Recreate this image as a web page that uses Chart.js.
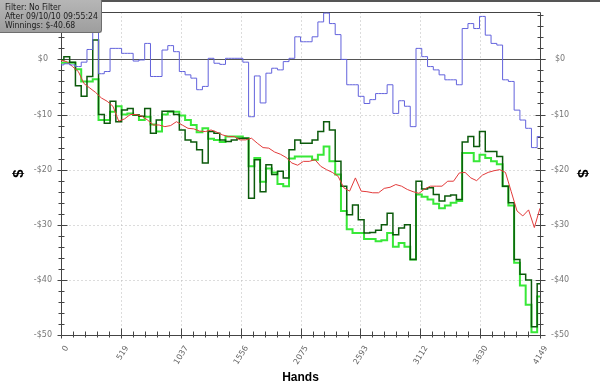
<!DOCTYPE html>
<html>
<head>
<meta charset="utf-8">
<script src="https://cdn.jsdelivr.net/npm/chart.js@4"></script>
<style>
  body { margin: 0; background: #fff; }
  #wrap { position: relative; width: 600px; height: 385px; }
  #topbar { position: absolute; left: 0; top: 0; width: 600px; height: 2px; background: #555; }
  #info {
    position: absolute; left: 0; top: 0; width: 96px; height: 29px;
    padding: 3px 0 0 5px;
    background: linear-gradient(#b6b6b6, #9e9e9e);
    border: 1px solid #6e6e6e; border-top: none; border-left: none;
    border-radius: 0 0 3px 0;
    font: 8.6px "DejaVu Sans Condensed", "DejaVu Sans", sans-serif; line-height: 9px; color: #1c1c1c;
    white-space: nowrap;
  }
</style>
</head>
<body>
<div id="wrap">
  <canvas id="chart" width="600" height="385"></canvas>
  <div id="topbar"></div>
  <div id="info">Filter: No Filter<br>After 09/10/10 09:55:24<br>Winnings: $-40.68</div>
</div>
<script>
// --- DATA ---
const hands = [0, 50, 100, 150, 200, 250, 300, 350, 400, 450, 500, 550, 600, 650, 700, 750, 800, 850, 900, 950,
  1000, 1050, 1100, 1150, 1200, 1250, 1300, 1350, 1400, 1450, 1500, 1550, 1600, 1650, 1700, 1750, 1800, 1850, 1900, 1950,
  2000, 2050, 2100, 2150, 2200, 2250, 2300, 2350, 2400, 2450, 2500, 2550, 2600, 2650, 2700, 2750, 2800, 2850, 2900, 2950,
  3000, 3050, 3100, 3150, 3200, 3250, 3300, 3350, 3400, 3450, 3500, 3550, 3600, 3650, 3700, 3750, 3800, 3850, 3900, 3950,
  4000, 4050, 4100, 4149];

const blueWinnings = [-1.0, -0.8, -1.0, -1.3, -0.5, 1.8, 8.0, -2.6, -2.2, 2.0, 2.0, 1.1, 1.1, -0.3, -0.1, 2.9, -3.1, -3.1, 1.7, 2.5,
  1.4, -2.2, -2.8, -3.4, -5.5, -4.9, 0.2, -0.7, -0.9, 0.2, 0.2, 0.2, -0.5, -10.4, -3.0, -7.9, -2.5, -1.6, -1.9, -0.4,
  0.2, 4.1, 3.2, 3.2, 4.1, 6.8, 8.4, 6.5, 4.5, 0.0, -4.6, -4.6, -6.7, -8.0, -7.3, -6.2, -6.2, -4.6, -9.8, -7.5,
  -8.5, -12.2, 2.0, 0.5, -1.3, -1.9, -2.8, -3.7, -3.7, -4.6, 5.6, 6.5, 5.6, 7.8, 4.4, 2.9, 2.6, -3.7, -4.0, -9.2,
  -11.0, -12.5, -16.0, -14.0];

const redWinnings = [-0.2, -0.4, -1.3, -2.2, -4.4, -5.2, -6.0, -7.0, -7.6, -8.5, -11.2, -10.8, -10.0, -10.0, -10.3, -11.0, -11.9, -11.9, -12.2, -12.0,
  -11.3, -11.9, -12.5, -12.6, -13.0, -13.1, -12.8, -13.2, -13.7, -14.0, -14.0, -14.6, -14.6, -14.3, -15.2, -16.0, -16.1, -16.8, -17.2, -17.8,
  -18.8, -19.2, -18.5, -18.5, -18.2, -19.4, -20.0, -20.5, -21.2, -23.3, -23.9, -21.5, -23.9, -24.0, -24.2, -24.2, -23.4, -23.2, -22.7, -23.0,
  -23.6, -24.0, -24.3, -23.5, -23.0, -23.0, -23.0, -22.1, -22.1, -20.6, -20.5, -21.5, -22.0, -21.0, -20.5, -20.2, -20.0, -20.5, -24.0, -27.5,
  -28.4, -27.3, -30.5, -27.0];

const darkGreenWinnings = [-0.1, 0.5, -0.5, -4.8, -6.7, -3.1, 3.5, -10.0, -11.6, -7.6, -11.3, -9.2, -8.9, -10.1, -10.3, -8.9, -13.4, -11.0, -9.4, -9.4,
  -10.0, -12.8, -14.6, -15.0, -16.4, -18.8, -13.1, -13.4, -14.6, -14.9, -14.6, -14.3, -14.3, -25.2, -18.2, -24.0, -19.1, -20.9, -20.3, -21.5,
  -16.4, -14.6, -15.2, -15.2, -14.6, -13.1, -11.3, -12.8, -18.5, -23.0, -28.2, -26.4, -29.1, -31.5, -31.4, -31.0, -30.0, -27.9, -31.8, -30.6,
  -30.0, -36.3, -22.1, -23.5, -23.3, -24.5, -25.7, -24.8, -24.6, -25.4, -15.0, -14.0, -15.8, -13.1, -16.7, -16.7, -17.6, -23.0, -26.0, -36.3,
  -39.0, -40.0, -48.5, -40.7];

const lightGreenWinnings = [-0.6, -0.6, -0.6, -1.8, -4.0, -4.0, -3.6, -11.0, -11.0, -9.5, -8.5, -10.0, -9.8, -10.1, -11.0, -10.4, -11.8, -13.1, -10.0, -9.5,
  -9.5, -10.2, -11.0, -11.9, -13.2, -12.5, -14.4, -14.6, -15.0, -14.0, -14.0, -14.0, -14.3, -19.4, -17.9, -22.2, -19.8, -20.5, -22.6, -23.0,
  -18.0, -17.6, -17.6, -17.6, -18.2, -17.3, -15.8, -18.5, -20.9, -27.5, -30.8, -31.5, -31.5, -32.6, -32.6, -33.0, -32.8, -31.5, -34.0, -33.3,
  -34.0, -36.3, -24.5, -24.9, -25.4, -26.2, -27.0, -26.5, -26.0, -25.7, -17.0, -17.0, -18.5, -17.3, -17.9, -18.5, -19.0, -23.0, -26.5, -36.9,
  -41.0, -44.5, -49.5, -43.0];

const handTicks = [0, 519, 1037, 1556, 2075, 2593, 3112, 3630, 4149];
const handLabels = ['0', '519', '1037', '1556', '2075', '2593', '3112', '3630', '4149'];
const dollarTicks = [-50, -40, -30, -20, -10, 0];
const dollarLabels = ['-$50', '-$40', '-$30', '-$20', '-$10', '$0'];
const dollarMin = -50;
const dollarMax = 8.6;

// --- HELPERS ---
const toPoints = vals => vals.map((v, i) => ({ x: hands[i], y: v }));

function line(ctx, x1, y1, x2, y2) {
  ctx.beginPath();
  ctx.moveTo(x1, y1);
  ctx.lineTo(x2, y2);
  ctx.stroke();
}

// grid, frame and tick marks drawn under the lines
const framePlugin = {
  id: 'frame',
  beforeDatasetsDraw(chart) {
    const { ctx, chartArea: a, scales: { x, y } } = chart;
    const L = Math.round(a.left) + 0.5, R = Math.round(a.right) + 0.5;
    const T = Math.round(a.top) + 0.5, B = Math.round(a.bottom) + 0.5;
    ctx.save();
    ctx.lineWidth = 1;

    // dotted grid
    ctx.strokeStyle = '#b8b8b8';
    ctx.setLineDash([1, 3]);
    handTicks.slice(1, -1).forEach(v => {
      const px = Math.round(x.getPixelForValue(v)) + 0.5;
      line(ctx, px, T, px, B);
    });
    dollarTicks.filter(v => v !== 0 && v !== dollarMin).forEach(v => {
      const py = Math.round(y.getPixelForValue(v)) + 0.5;
      line(ctx, L, py, R, py);
    });
    ctx.setLineDash([]);

    // zero line and frame
    ctx.strokeStyle = '#555';
    const zy = Math.round(y.getPixelForValue(0)) + 0.5;
    line(ctx, L, zy, R + 5, zy);
    ctx.strokeStyle = '#444';
    line(ctx, L, T, R, T);
    line(ctx, L, T, L, B);
    line(ctx, R, T, R, B);
    line(ctx, L, B, R, B);

    // x ticks (major + 4 minor between)
    for (let i = 0; i < handTicks.length; i++) {
      const px = Math.round(x.getPixelForValue(handTicks[i])) + 0.5;
      line(ctx, px, B - 7, px, B + 3);
      if (i < handTicks.length - 1) {
        const step = (handTicks[i + 1] - handTicks[i]) / 5;
        for (let k = 1; k < 5; k++) {
          const mx = Math.round(x.getPixelForValue(handTicks[i] + k * step)) + 0.5;
          line(ctx, mx, B - 4, mx, B + 2);
        }
      }
    }

    // y ticks on both sides, minor every $2
    for (let v = dollarMin; v <= dollarMax; v += 2) {
      const py = Math.round(y.getPixelForValue(v)) + 0.5;
      if (v % 10 === 0) {
        line(ctx, L - 4, py, L + 6, py);
        line(ctx, R - 5, py, R + 5, py);
      } else {
        line(ctx, L - 3, py, L + 3, py);
        line(ctx, R - 3, py, R + 3, py);
      }
    }
    ctx.restore();
  }
};

const tickFont = { family: '"DejaVu Sans", Verdana, sans-serif', size: 8 };
const titleFont = { family: '"Liberation Sans", Arial, sans-serif', weight: 'bold' };

function dollarAxis(position, width, pad, titlePad) {
  return {
    type: 'linear',
    position: position,
    min: dollarMin,
    max: dollarMax,
    afterBuildTicks: s => { s.ticks = dollarTicks.map(v => ({ value: v })); },
    afterFit: s => { s.width = width; s.paddingTop = 0; s.paddingBottom = 0; },
    grid: { display: false, drawTicks: false },
    border: { display: false },
    ticks: {
      crossAlign: 'center',
      padding: pad,
      color: '#777',
      font: tickFont,
      callback: (v, i) => dollarLabels[i]
    },
    title: {
      display: true,
      text: '$',
      color: '#000',
      font: { ...titleFont, size: 15 },
      padding: { top: titlePad, bottom: 0 }
    }
  };
}

new Chart(document.getElementById('chart'), {
  type: 'line',
  data: {
    datasets: [
      { data: toPoints(blueWinnings), borderColor: '#6262dc', borderWidth: 1, stepped: 'middle' },
      { data: toPoints(redWinnings), borderColor: '#e23a3a', borderWidth: 1 },
      { data: toPoints(darkGreenWinnings), borderColor: '#0b5a0b', borderWidth: 1.5, stepped: 'middle' },
      { data: toPoints(lightGreenWinnings), borderColor: '#38e838', borderWidth: 2, stepped: 'middle' }
    ]
  },
  options: {
    responsive: false,
    animation: false,
    layout: { padding: { top: 12, left: 0, right: 0, bottom: 0 } },
    datasets: { line: { pointRadius: 0, fill: false, tension: 0 } },
    plugins: { legend: { display: false }, tooltip: { enabled: false } },
    scales: {
      x: {
        type: 'linear',
        min: 0,
        max: 4149,
        afterBuildTicks: s => { s.ticks = handTicks.map(v => ({ value: v })); },
        afterFit: s => { s.height = 50; s.paddingLeft = 0; s.paddingRight = 0; },
        grid: { display: false, drawTicks: false },
        border: { display: false },
        ticks: {
          autoSkip: false,
          minRotation: 58,
          maxRotation: 58,
          padding: 9,
          labelOffset: 6,
          color: '#666',
          font: tickFont,
          callback: (v, i) => handLabels[i]
        },
        title: {
          display: true,
          text: 'Hands',
          color: '#000',
          font: { ...titleFont, size: 12 },
          padding: { top: 0, bottom: 0 }
        }
      },
      y: dollarAxis('left', 61, 9, 10),
      y2: dollarAxis('right', 60, 11, 9)
    }
  },
  plugins: [framePlugin]
});
</script>
</body>
</html>
